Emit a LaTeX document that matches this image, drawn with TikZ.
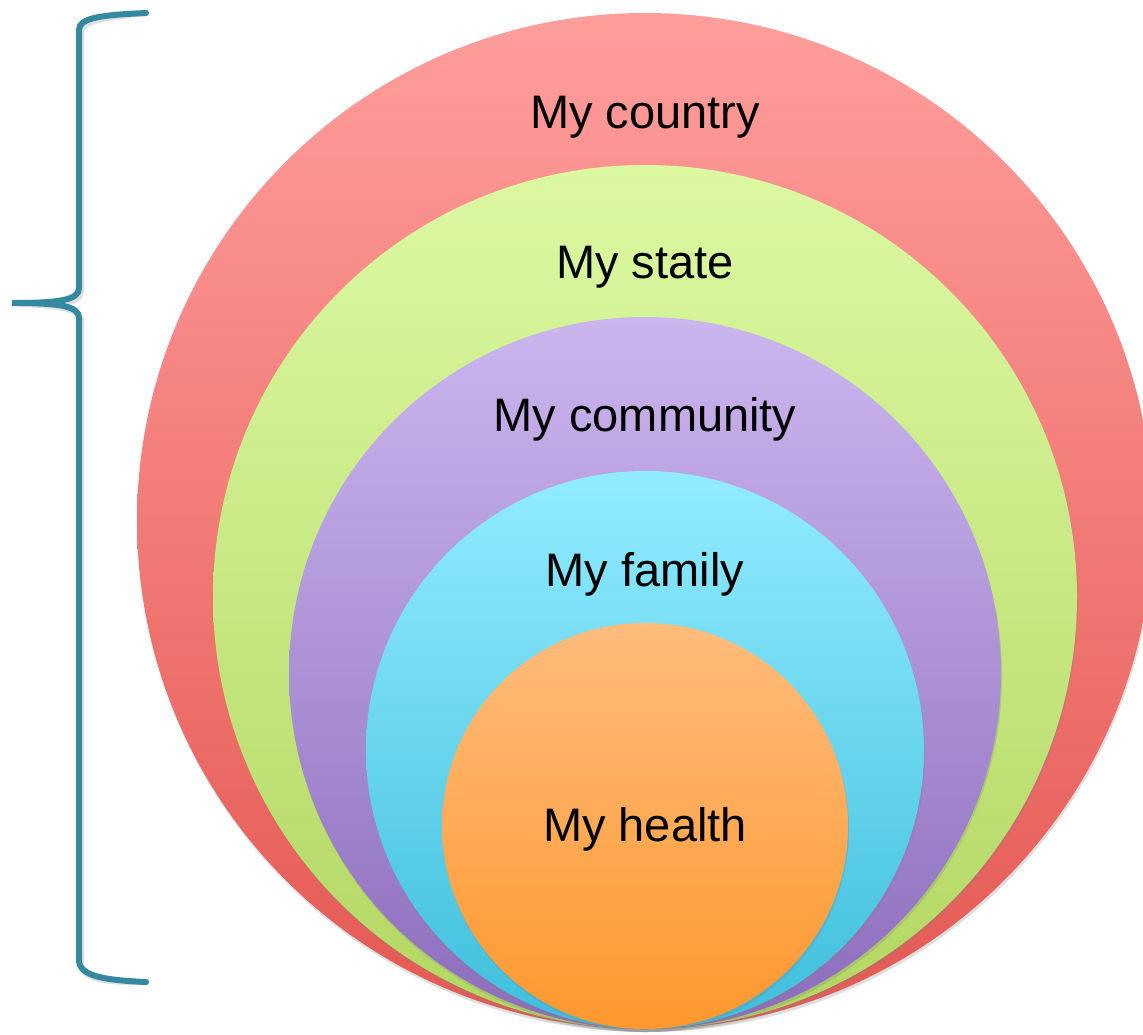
\documentclass[tikz,border=0pt]{standalone}
\usepackage{fontspec}
\setmainfont{Liberation Sans}
\usetikzlibrary{shadows}

\definecolor{redtop}{RGB}{255,158,156}
\definecolor{redbot}{RGB}{228,88,82}
\definecolor{greentop}{RGB}{220,249,162}
\definecolor{greenbot}{RGB}{178,214,98}
\definecolor{purpletop}{RGB}{203,182,238}
\definecolor{purplebot}{RGB}{140,108,188}
\definecolor{cyantop}{RGB}{146,236,255}
\definecolor{cyanbot}{RGB}{62,190,220}
\definecolor{orangetop}{RGB}{255,188,124}
\definecolor{orangebot}{RGB}{255,152,46}
\definecolor{bracecol}{RGB}{52,136,160}

\tikzset{
  disc/.style={circle,inner sep=0pt,shading=axis,
    drop shadow={opacity=0.25,shadow xshift=0.5pt,shadow yshift=-1.5pt}},
  ringtext/.style={font=\fontsize{23.5}{28}\selectfont,text=black}
}

\begin{document}
\begin{tikzpicture}[x=0.5pt,y=-0.5pt]
\useasboundingbox (0,0) rectangle (1143,1034);
\foreach \name/\cy/\r/\top/\bot in {country/521/508/redtop/redbot,
    state/597/432/greentop/greenbot,purple/673/356/purpletop/purplebot,
    family/750/279/cyantop/cyanbot,health/826/203/orangetop/orangebot}
  \node[disc,minimum size=\r pt,top color=\top,bottom color=\bot] (\name) at (645,\cy) {};
\node[ringtext] (l1) at (645,117) {My country};
\node[ringtext] (l2) at (645,267) {My state};
\node[ringtext] (l3) at (645,419) {My community};
\node[ringtext] (l4) at (645,574) {My family};
\node[ringtext] (l5) at (645,829) {My health};
% brace
\coordinate (bt) at (146,13);
\coordinate (tip) at (12,303);
\coordinate (bb) at (146,982);
\draw[black!12,line width=3pt,line cap=round,shift={(2,3)}]
  (bt) .. controls (100,15) and (79,18) .. (79,30) -- (79,288)
  .. controls (79,300) and (60,303) .. (tip)
  .. controls (60,303) and (79,306) .. (79,318) -- (79,960)
  .. controls (79,975) and (100,980) .. (bb);
\draw[bracecol,line width=3pt,line cap=round]
  (bt) .. controls (100,15) and (79,18) .. (79,30) -- (79,288)
  .. controls (79,300) and (60,303) .. (tip)
  .. controls (60,303) and (79,306) .. (79,318) -- (79,960)
  .. controls (79,975) and (100,980) .. (bb);
\end{tikzpicture}
\end{document}
